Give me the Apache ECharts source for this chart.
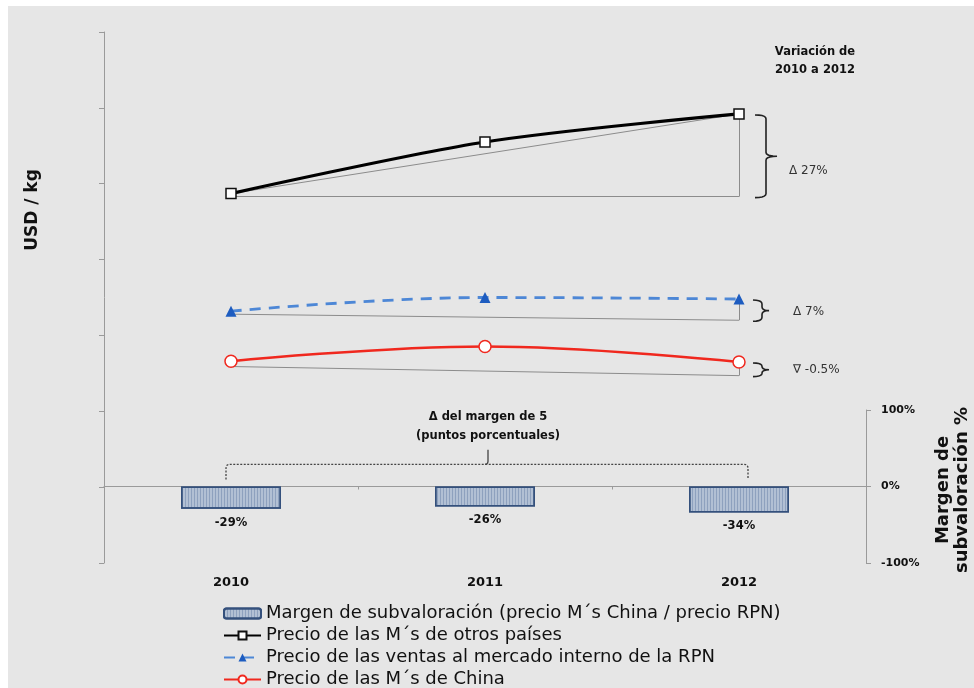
<!DOCTYPE html>
<html><head><meta charset="utf-8">
<script src="https://cdn.jsdelivr.net/npm/echarts@6/dist/echarts.min.js"></script>
<style>html,body{margin:0;padding:0;background:#fff;width:974px;height:688px;overflow:hidden}
#c{position:absolute;left:8px;top:6px;width:966px;height:690px}</style>
</head><body><div id="c"></div>
<script>
// ---- data ----
const categories = ['2010', '2011', '2012'];
const margenSubvaloracion = [-29, -26, -34];
const precioOtrosPaises = [3.87, 4.55, 4.92];
const precioVentasRPN = [2.32, 2.50, 2.48];
const precioChina = [1.66, 1.855, 1.65];
const baseOtros = [3.83, 3.83];
const baseRPN = [2.28, 2.20];
const baseChina = [1.59, 1.47];
const variaciones = ['Δ 27%', 'Δ 7%', '∇ -0.5%'];
const leftAxisRange = [-1, 6];
const rightAxisTicks = [-100, 0, 100];
const seriesNames = [
  'Margen de subvaloración (precio M´s China / precio RPN)',
  'Precio de las M´s de otros países',
  'Precio de las ventas al mercado interno de la RPN',
  'Precio de las M´s de China'
];
const margenBracket = [29, 9, 48];   // % levels of dashed bracket (top, ends, nub)
const margenTextLevel = 79;

const FONT = 'DejaVu Sans';
const OX = 8, OY = 6, CH = 690;
const chart = echarts.init(document.getElementById('c'));

const mlBase = {
  silent: true, symbol: 'none', z: 1, animation: false,
  label: {show: false}, emphasis: {disabled: true},
  lineStyle: {color: '#8c8c8c', width: 1, type: 'solid'}
};
function segs(pairs) { return pairs.map(p => [{coord: p[0]}, {coord: p[1]}]); }

const gridBottom = CH + OY - 563;
const option = {
  backgroundColor: '#e6e6e6',
  animation: false,
  textStyle: {fontFamily: FONT},
  grid: [
    {left: 104 - OX, right: 108, top: 32 - OY, bottom: gridBottom},
    {left: 104 - OX, right: 108, top: 410 - OY, bottom: gridBottom}
  ],
  xAxis: [
    {type: 'category', gridIndex: 0, data: categories, boundaryGap: true,
     axisLine: {show: false, onZero: false}, axisTick: {show: false},
     axisLabel: {fontFamily: FONT, fontWeight: 'bold', fontSize: 13, color: '#111', margin: 13}},
    {type: 'category', gridIndex: 1, data: categories, boundaryGap: true,
     axisLine: {show: true, onZero: true, lineStyle: {color: '#9a9a9a', width: 1}},
     axisTick: {show: true, length: 3, lineStyle: {color: '#9a9a9a'}},
     axisLabel: {show: false}}
  ],
  yAxis: [
    {type: 'value', gridIndex: 0, min: leftAxisRange[0], max: leftAxisRange[1], interval: 1,
     axisLine: {show: true, lineStyle: {color: '#9a9a9a'}},
     axisTick: {show: true, length: 5, lineStyle: {color: '#9a9a9a'}},
     axisLabel: {show: false}, splitLine: {show: false}},
    {type: 'value', gridIndex: 1, position: 'right',
     min: rightAxisTicks[0], max: rightAxisTicks[2], interval: rightAxisTicks[2] - rightAxisTicks[1],
     axisLine: {show: true, lineStyle: {color: '#9a9a9a'}},
     axisTick: {show: true, length: 5, lineStyle: {color: '#9a9a9a'}},
     axisLabel: {formatter: '{value}%', fontFamily: FONT, fontSize: 11, fontWeight: 'bold', color: '#111', margin: 15},
     splitLine: {show: false}}
  ],
  legend: {
    orient: 'vertical', left: 215, top: 596.5, padding: 0,
    itemWidth: 37, itemHeight: 10, itemGap: 0, selectedMode: false,
    data: seriesNames,
    textStyle: {fontFamily: FONT, fontSize: 18, color: '#111', lineHeight: 22}
  },
  series: [
    {name: seriesNames[0], type: 'bar', xAxisIndex: 1, yAxisIndex: 1, data: margenSubvaloracion,
     barWidth: 100,
     itemStyle: {color: '#b2c0d4', borderColor: '#34507c', borderWidth: 1.5,
       decal: {symbol: 'rect', symbolSize: 1, dashArrayX: [1, 2], dashArrayY: [5, 0], color: 'rgba(60,90,140,0.3)'}},
     label: {show: true, position: 'bottom', distance: 8, formatter: '{c}%',
       fontFamily: FONT, fontSize: 11.5, fontWeight: 'bold', color: '#111'}},
    {name: seriesNames[1], type: 'line', xAxisIndex: 0, yAxisIndex: 0, data: precioOtrosPaises,
     smooth: 0.3, symbol: 'rect', symbolSize: 10, z: 3,
     lineStyle: {color: '#000', width: 3.2},
     itemStyle: {color: '#fff', borderColor: '#111', borderWidth: 1.5},
     markLine: Object.assign({}, mlBase, {data: segs([
       [[categories[0], baseOtros[0]], [categories[2], baseOtros[1]]],
       [[categories[2], baseOtros[1]], [categories[2], precioOtrosPaises[2]]],
       [[categories[0], precioOtrosPaises[0]], [categories[2], precioOtrosPaises[2]]]
     ])})},
    {name: seriesNames[2], type: 'line', xAxisIndex: 0, yAxisIndex: 0, data: precioVentasRPN,
     smooth: 0.4, symbol: 'triangle', symbolSize: 11, z: 3,
     lineStyle: {color: '#4d87d6', width: 2.8, type: [11, 8]},
     itemStyle: {color: '#1d5cc0'},
     markLine: Object.assign({}, mlBase, {data: segs([
       [[categories[0], baseRPN[0]], [categories[2], baseRPN[1]]],
       [[categories[2], baseRPN[1]], [categories[2], precioVentasRPN[2]]]
     ])})},
    {name: seriesNames[3], type: 'line', xAxisIndex: 0, yAxisIndex: 0, data: precioChina,
     smooth: 0.4, symbol: 'circle', symbolSize: 12, z: 3,
     lineStyle: {color: '#f0281e', width: 2.6},
     itemStyle: {color: '#fff', borderColor: '#f0281e', borderWidth: 1.5},
     markLine: Object.assign({}, mlBase, {data: segs([
       [[categories[0], baseChina[0]], [categories[2], baseChina[1]]],
       [[categories[2], baseChina[1]], [categories[2], precioChina[2]]]
     ])})}
  ]
};
chart.setOption(option);

function p0(i, v) { return chart.convertToPixel({xAxisIndex: 0, yAxisIndex: 0}, [i, v]); }
function p1(i, v) { return chart.convertToPixel({xAxisIndex: 1, yAxisIndex: 1}, [i, v]); }

function quad(a, c, b, n) {
  const pts = [];
  for (let k = 1; k <= n; k++) {
    const t = k / n, u = 1 - t;
    pts.push([u * u * a[0] + 2 * u * t * c[0] + t * t * b[0], u * u * a[1] + 2 * u * t * c[1] + t * t * b[1]]);
  }
  return pts;
}
function bracePoints(x0, yTop, yBot, w, nub) {
  const x1 = x0 + w, x2 = x1 + nub, ym = (yTop + yBot) / 2;
  const r = Math.min(4, (yBot - yTop) / 4);
  let pts = [[x0, yTop]];
  pts = pts.concat(quad([x0, yTop], [x1, yTop], [x1, yTop + r], 5));
  pts.push([x1, ym - r]);
  pts = pts.concat(quad([x1, ym - r], [x1, ym], [x2, ym], 5));
  pts = pts.concat(quad([x2, ym], [x1, ym], [x1, ym + r], 5));
  pts.push([x1, yBot - r]);
  pts = pts.concat(quad([x1, yBot - r], [x1, yBot], [x0, yBot], 5));
  return pts;
}

const graphics = [];
const braceSpecs = [
  {top: precioOtrosPaises[2], bot: baseOtros[1], dx: 16, w: 11, nub: 11, tdx: 50, tdy: 15, text: variaciones[0]},
  {top: precioVentasRPN[2], bot: baseRPN[1], dx: 14, w: 9, nub: 7, tdx: 54, tdy: 1, text: variaciones[1]},
  {top: precioChina[2], bot: baseChina[1], dx: 14, w: 9, nub: 7, tdx: 54, tdy: 0, text: variaciones[2]}
];
braceSpecs.forEach(b => {
  const a = p0(2, b.top), c = p0(2, b.bot);
  const yTop = a[1] + 1, yBot = c[1] + 1;
  graphics.push({type: 'polyline', shape: {points: bracePoints(a[0] + b.dx, yTop, yBot, b.w, b.nub)},
    style: {fill: null, stroke: '#222', lineWidth: 1.6}, silent: true});
  graphics.push({type: 'text', x: a[0] + b.tdx, y: (yTop + yBot) / 2 + b.tdy,
    style: {text: b.text, fontFamily: FONT, fontSize: 12, fill: '#333', textAlign: 'left', textVerticalAlign: 'middle'}, silent: true});
});

// dashed bracket over bars
(function () {
  const L = p1(0, margenBracket[0]), R = p1(2, margenBracket[0]), C = p1(1, margenBracket[0]);
  const yEnd = p1(0, margenBracket[1])[1], yNub = p1(1, margenBracket[2])[1];
  const xL = L[0] - 5, xR = R[0] + 9, xC = C[0] + 3, yT = L[1], r = 4;
  let pts = [[xL, yEnd], [xL, yT + r]];
  pts = pts.concat(quad([xL, yT + r], [xL, yT], [xL + r, yT], 4));
  pts.push([xR - r, yT]);
  pts = pts.concat(quad([xR - r, yT], [xR, yT], [xR, yT + r], 4));
  pts.push([xR, yEnd]);
  graphics.push({type: 'polyline', shape: {points: pts},
    style: {fill: null, stroke: '#444', lineWidth: 1.3, lineDash: [2, 1.5]}, silent: true});
  let nub = [[xC - 3, yT]].concat(quad([xC - 3, yT], [xC, yT], [xC, yT - 3], 3));
  nub.push([xC, yNub]);
  graphics.push({type: 'polyline', shape: {points: nub},
    style: {fill: null, stroke: '#444', lineWidth: 1.3}, silent: true});
  const t = p1(1, margenTextLevel);
  graphics.push({type: 'text', x: t[0] + 3, y: t[1],
    style: {text: 'Δ del margen de 5\n(puntos porcentuales)', fontFamily: FONT, fontSize: 11.5, fontWeight: 'bold',
      lineHeight: 19, fill: '#111', textAlign: 'center', textVerticalAlign: 'middle'}, silent: true});
})();

graphics.push({type: 'text', x: 815 - OX, y: 61 - OY,
  style: {text: 'Variación de\n2010 a 2012', fontFamily: FONT, fontSize: 11.5, fontWeight: 'bold',
    lineHeight: 18, fill: '#111', textAlign: 'center', textVerticalAlign: 'middle'}, silent: true});
graphics.push({type: 'text', x: 33 - OX, y: 210 - OY, rotation: Math.PI / 2,
  style: {text: 'USD / kg', fontFamily: FONT, fontSize: 17, fontWeight: 'bold', fill: '#111',
    textAlign: 'center', textVerticalAlign: 'middle'}, silent: true});
graphics.push({type: 'text', x: 952.5 - OX, y: 490 - OY, rotation: Math.PI / 2,
  style: {text: 'Margen de\nsubvaloración %', fontFamily: FONT, fontSize: 18, fontWeight: 'bold', lineHeight: 19,
    fill: '#111', textAlign: 'center', textVerticalAlign: 'middle'}, silent: true});

chart.setOption({graphic: graphics});
</script></body></html>
